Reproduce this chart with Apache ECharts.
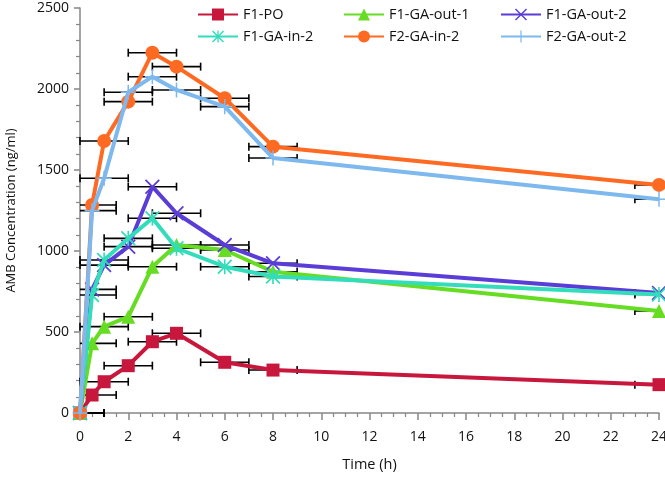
<!DOCTYPE html>
<html>
<head>
<meta charset="utf-8">
<script src="https://cdn.jsdelivr.net/npm/echarts@6/dist/echarts.min.js"></script>
<style>
html,body{margin:0;padding:0;background:#fff;}
#c{width:665px;height:478px;}
</style>
</head>
<body>
<div id="c"></div>
<script>
// ---- data ----
const timeH = [0, 0.5, 1, 2, 3, 4, 6, 8, 24];
const timeErr = [1, 1, 1, 1, 1, 1, 1, 1, 1];
const seriesNames = ['F1-PO', 'F1-GA-out-1', 'F1-GA-out-2', 'F1-GA-in-2', 'F2-GA-in-2', 'F2-GA-out-2'];
const f1PO      = [0, 111, 193, 292, 440, 492, 313, 265, 175];
const f1GAout1  = [0, 430, 533, 594, 903, 1037, 1006, 872, 630];
const f1GAout2  = [0, 763, 913, 1027, 1397, 1233, 1037, 924, 741];
const f1GAin2   = [0, 728, 944, 1078, 1202, 1017, 903, 843, 732];
const f2GAin2   = [0, 1284, 1679, 1922, 2224, 2138, 1943, 1644, 1408];
const f2GAout2  = [0, 1249, 1449, 1980, 2076, 1994, 1891, 1574, 1320];
const yTicks = [0, 500, 1000, 1500, 2000, 2500];
const xTicks = [0, 2, 4, 6, 8, 10, 12, 14, 16, 18, 20, 22, 24];

const allValues = [f1PO, f1GAout1, f1GAout2, f1GAin2, f2GAin2, f2GAout2];
const colors = ['#C8173C', '#66DD22', '#5A3CD6', '#33DDBB', '#FF6A22', '#7DB8EE'];
const FONT = 'Open Sans';

const symX = 'path://M1,0 L6,5 L11,0 L12,1 L7,6 L12,11 L11,12 L6,7 L1,12 L0,11 L5,6 L0,1 Z';
const symStar = 'path://M1,0 L6,5 L11,0 L12,1 L7,6 L12,11 L11,12 L6,7 L1,12 L0,11 L5,6 L0,1 Z M5.35,0 L6.65,0 L6.65,12 L5.35,12 Z';
const symPlus = 'path://M5.4,0 L6.6,0 L6.6,5.4 L12,5.4 L12,6.6 L6.6,6.6 L6.6,12 L5.4,12 L5.4,6.6 L0,6.6 L0,5.4 L5.4,5.4 Z';
const symbols = ['rect', 'triangle', symX, symStar, 'circle', symPlus];
const symSizes = [13, 14, 15, 15, 14, 15];

const chart = echarts.init(document.getElementById('c'), null, {renderer: 'canvas'});

const errData = [];
allValues.forEach(vals => {
  vals.forEach((v, i) => errData.push([timeH[i], v, timeErr[i]]));
});

function renderErr(params, api) {
  const x = api.value(0), y = api.value(1), e = api.value(2);
  const p0 = api.coord([x - e, y]);
  const p1 = api.coord([x + e, y]);
  const cs = params.coordSys;
  const L = cs.x, R = cs.x + cs.width;
  const a = Math.max(p0[0], L), b = Math.min(p1[0], R);
  const yy = p0[1];
  const st = {stroke: '#000', lineWidth: 1.6};
  const ch = [{type: 'line', shape: {x1: a, y1: yy, x2: b, y2: yy}, style: st}];
  if (p0[0] >= L - 0.5) ch.push({type: 'line', shape: {x1: p0[0], y1: yy - 4, x2: p0[0], y2: yy + 4}, style: st});
  if (p1[0] <= R + 0.5) ch.push({type: 'line', shape: {x1: p1[0], y1: yy - 4, x2: p1[0], y2: yy + 4}, style: st});
  return {type: 'group', children: ch};
}

const series = [{
  type: 'custom',
  name: 'err',
  renderItem: renderErr,
  data: errData,
  encode: {x: 0, y: 1},
  z: 1,
  silent: true
}];
seriesNames.forEach((n, k) => {
  series.push({
    type: 'line',
    name: n,
    data: timeH.map((t, i) => [t, allValues[k][i]]),
    symbol: symbols[k],
    symbolSize: symSizes[k],
    showAllSymbol: true,
    color: colors[k],
    lineStyle: {width: 4, color: colors[k]},
    itemStyle: {color: colors[k]},
    z: 2 + k,
    animation: false
  });
});

const legendBase = {
  orient: 'vertical',
  top: 7,
  itemWidth: 40,
  itemHeight: 15,
  itemGap: 7,
  textStyle: {fontFamily: FONT, fontSize: 14.5, color: '#111'},
  padding: 0
};

const axisGray = '#868686';

chart.setOption({
  animation: false,
  backgroundColor: '#fff',
  grid: {left: 80, right: 6, top: 8, bottom: 65, containLabel: false, outerBoundsMode: 'none'},
  legend: [
    Object.assign({}, legendBase, {left: 197, data: [seriesNames[0], seriesNames[3]]}),
    Object.assign({}, legendBase, {left: 343, data: [seriesNames[1], seriesNames[4]]}),
    Object.assign({}, legendBase, {left: 500, data: [seriesNames[2], seriesNames[5]]})
  ],
  xAxis: {
    type: 'value', min: xTicks[0], max: xTicks[xTicks.length - 1], interval: 2,
    name: 'Time (h)', nameLocation: 'middle', nameGap: 44,
    nameTextStyle: {fontFamily: FONT, fontSize: 14.5, color: '#111'},
    axisLine: {onZero: false, lineStyle: {color: axisGray, width: 1.5}},
    axisTick: {inside: false, length: 7, lineStyle: {color: axisGray, width: 1.5}},
    minorTick: {show: true, splitNumber: 4, length: 4, lineStyle: {color: axisGray, width: 1.2}},
    axisLabel: {fontFamily: FONT, fontSize: 14, color: '#111', margin: 17},
    splitLine: {show: false}
  },
  yAxis: {
    type: 'value', min: yTicks[0], max: yTicks[yTicks.length - 1], interval: 500,
    name: 'AMB Concentration (ng/ml)', nameLocation: 'middle', nameGap: 62,
    nameTextStyle: {fontFamily: FONT, fontSize: 13, color: '#111'},
    axisLine: {show: true, onZero: false, lineStyle: {color: axisGray, width: 1.5}},
    axisTick: {show: true, inside: false, length: 6, lineStyle: {color: axisGray, width: 1.5}},
    minorTick: {show: true, splitNumber: 5, length: 4, lineStyle: {color: axisGray, width: 1.2}},
    axisLabel: {fontFamily: FONT, fontSize: 14, color: '#111', margin: 11, formatter: v => String(v)},
    splitLine: {show: false}
  },
  series: series
});
</script>
</body>
</html>
